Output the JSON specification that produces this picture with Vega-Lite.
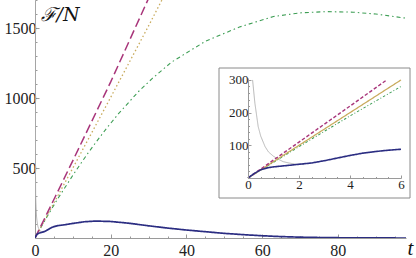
{
  "$schema": "https://vega.github.io/schema/vega-lite/v6.json",
  "width": 371,
  "height": 238,
  "autosize": {"type": "none"},
  "padding": {"left": 35, "top": 0, "right": 10, "bottom": 20},
  "background": "white",
  "config": {
    "view": {"stroke": null},
    "axis": {"labelFont": "Liberation Serif", "titleFont": "Liberation Serif", "domainColor": "#9a9a9a", "tickColor": "#9a9a9a", "grid": false, "labelColor": "#222222", "titleColor": "#111111", "labelFlush": false, "labelOverlap": false, "format": "d"}
  },
  "data": {
    "values": [
      {"s": "k", "t": 0.03, "v": 1750}, {"s": "k", "t": 0.04, "v": 1400}, {"s": "k", "t": 0.06, "v": 930}, {"s": "k", "t": 0.1, "v": 560},
      {"s": "k", "t": 0.18, "v": 300}, {"s": "k", "t": 0.27, "v": 229}, {"s": "k", "t": 0.4, "v": 157}, {"s": "k", "t": 0.5, "v": 128},
      {"s": "k", "t": 0.67, "v": 96}, {"s": "k", "t": 0.8, "v": 80}, {"s": "k", "t": 0.99, "v": 67}, {"s": "k", "t": 1.2, "v": 57},
      {"s": "k", "t": 1.38, "v": 50}, {"s": "k", "t": 1.6, "v": 46}, {"s": "k", "t": 1.9, "v": 42}, {"s": "k", "t": 2.2, "v": 41},
      {"s": "g", "t": 0, "v": 0}, {"s": "g", "t": 2, "v": 96}, {"s": "g", "t": 4, "v": 190}, {"s": "g", "t": 6, "v": 280},
      {"s": "g", "t": 8, "v": 364}, {"s": "g", "t": 10, "v": 448}, {"s": "g", "t": 12, "v": 528}, {"s": "g", "t": 14, "v": 606},
      {"s": "g", "t": 16, "v": 680}, {"s": "g", "t": 18.8, "v": 780}, {"s": "g", "t": 22, "v": 886}, {"s": "g", "t": 27.3, "v": 1045},
      {"s": "g", "t": 31, "v": 1140}, {"s": "g", "t": 36, "v": 1255}, {"s": "g", "t": 45, "v": 1405}, {"s": "g", "t": 54, "v": 1507},
      {"s": "g", "t": 63, "v": 1582}, {"s": "g", "t": 70, "v": 1608}, {"s": "g", "t": 77, "v": 1617}, {"s": "g", "t": 84, "v": 1613},
      {"s": "g", "t": 90, "v": 1600}, {"s": "g", "t": 98, "v": 1570},
      {"s": "o", "t": 0, "v": 0}, {"s": "o", "t": 2, "v": 100}, {"s": "o", "t": 4, "v": 200}, {"s": "o", "t": 6, "v": 300},
      {"s": "o", "t": 10, "v": 500}, {"s": "o", "t": 20, "v": 1005}, {"s": "o", "t": 30, "v": 1515}, {"s": "o", "t": 34, "v": 1725},
      {"s": "p", "t": 0, "v": 0}, {"s": "p", "t": 2, "v": 110}, {"s": "p", "t": 4, "v": 220}, {"s": "p", "t": 5.44, "v": 300},
      {"s": "p", "t": 6, "v": 331}, {"s": "p", "t": 10, "v": 553}, {"s": "p", "t": 20, "v": 1115}, {"s": "p", "t": 30, "v": 1712},
      {"s": "b", "t": 0, "v": 0}, {"s": "b", "t": 0.25, "v": 14}, {"s": "b", "t": 0.5, "v": 25}, {"s": "b", "t": 0.75, "v": 31},
      {"s": "b", "t": 1, "v": 34}, {"s": "b", "t": 1.5, "v": 38}, {"s": "b", "t": 2, "v": 42}, {"s": "b", "t": 2.5, "v": 46},
      {"s": "b", "t": 3, "v": 53}, {"s": "b", "t": 3.5, "v": 61}, {"s": "b", "t": 4, "v": 69}, {"s": "b", "t": 4.5, "v": 76},
      {"s": "b", "t": 5, "v": 81}, {"s": "b", "t": 5.5, "v": 85}, {"s": "b", "t": 6, "v": 88}, {"s": "b", "t": 8, "v": 95},
      {"s": "b", "t": 10, "v": 104}, {"s": "b", "t": 13, "v": 116}, {"s": "b", "t": 16, "v": 121}, {"s": "b", "t": 20, "v": 118},
      {"s": "b", "t": 25, "v": 105}, {"s": "b", "t": 30, "v": 87}, {"s": "b", "t": 35, "v": 71}, {"s": "b", "t": 40, "v": 57},
      {"s": "b", "t": 45, "v": 45}, {"s": "b", "t": 50, "v": 33}, {"s": "b", "t": 55, "v": 24}, {"s": "b", "t": 60, "v": 16},
      {"s": "b", "t": 65, "v": 10}, {"s": "b", "t": 70, "v": 6}, {"s": "b", "t": 75, "v": 3.5}, {"s": "b", "t": 80, "v": 2},
      {"s": "b", "t": 90, "v": 0.5}, {"s": "b", "t": 98, "v": 0}
    ]
  },
  "layer": [
    {
      "mark": {"type": "line", "clip": true},
      "encoding": {
        "x": {
          "field": "t", "type": "quantitative", "scale": {"domain": [0, 98]},
          "axis": {
            "values": [0, 5, 10, 15, 20, 25, 30, 35, 40, 45, 50, 55, 60, 65, 70, 75, 80, 85, 90, 95],
            "labelExpr": "datum.value % 20 === 0 ? datum.label : ''",
            "tickSize": {"condition": {"test": "datum.value % 20 === 0", "value": -4}, "value": -2},
            "labelFontSize": 16, "labelPadding": 8,
            "title": "t", "titleFontSize": 21, "titleFontStyle": "italic", "titleFontWeight": "normal",
            "titleX": 375, "titleY": 16, "titleAlign": "center", "titleBaseline": "alphabetic"
          }
        },
        "y": {
          "field": "v", "type": "quantitative", "scale": {"domain": [0, 1700]},
          "axis": {
            "values": [0, 100, 200, 300, 400, 500, 600, 700, 800, 900, 1000, 1100, 1200, 1300, 1400, 1500, 1600, 1700],
            "labelExpr": "datum.value % 500 === 0 && datum.value > 0 ? datum.label : ''",
            "tickSize": {"condition": {"test": "datum.value % 500 === 0", "value": -4}, "value": -2},
            "labelFontSize": 16, "labelPadding": 3,
            "title": "ℱ/N", "titleAngle": 0, "titleFont": "DejaVu Serif", "titleFontSize": 19, "titleFontStyle": "italic", "titleFontWeight": "normal",
            "titleX": 5, "titleY": 14, "titleAlign": "left", "titleBaseline": "middle"
          }
        },
        "color": {"field": "s", "type": "nominal", "legend": null,
          "scale": {"domain": ["k", "g", "o", "p", "b"], "range": ["#b0b0b0", "#3e9e55", "#c8aa5c", "#a8357a", "#2b2d82"]}},
        "strokeDash": {"field": "s", "type": "nominal", "legend": null,
          "scale": {"domain": ["k", "g", "o", "p", "b"], "range": [[1, 0], [4, 3, 1.5, 3], [1.5, 2.5], [9, 4], [1, 0]]}},
        "strokeWidth": {"field": "s", "type": "ordinal", "legend": null,
          "scale": {"domain": ["k", "g", "o", "p", "b"], "range": [0.9, 1.7, 1.7, 2, 2]}}
      }
    },
    {
      "data": {"values": [{}]},
      "mark": {"type": "rect", "fill": "white", "stroke": "#8a8a8a", "strokeWidth": 1},
      "encoding": {
        "x": {"datum": -1.137, "type": "quantitative", "scale": {"domain": [0, 6], "range": [213, 366]}, "axis": null},
        "x2": {"datum": 6.353},
        "y": {"datum": -61.2, "type": "quantitative", "scale": {"domain": [0, 306], "range": [178, 78]}, "axis": null},
        "y2": {"datum": 336.6}
      }
    },
    {
      "transform": [{"filter": "datum.t <= 6.01 && datum.v <= 301"}],
      "mark": {"type": "line"},
      "encoding": {
        "x": {
          "field": "t", "type": "quantitative", "scale": {"domain": [0, 6], "range": [213, 366]},
          "axis": {
            "orient": "bottom", "offset": -60, "zindex": 2,
            "values": [0, 0.5, 1, 1.5, 2, 2.5, 3, 3.5, 4, 4.5, 5, 5.5, 6],
            "labelExpr": "datum.value % 2 === 0 ? datum.label : ''",
            "tickSize": {"condition": {"test": "datum.value % 2 === 0", "value": -3}, "value": -1.5},
            "labelFontSize": 13, "labelPadding": 3, "title": null
          }
        },
        "y": {
          "field": "v", "type": "quantitative", "scale": {"domain": [0, 306], "range": [178, 78]},
          "axis": {
            "orient": "left", "offset": -213, "zindex": 2,
            "values": [0, 20, 40, 60, 80, 100, 120, 140, 160, 180, 200, 220, 240, 260, 280, 300],
            "labelExpr": "datum.value % 100 === 0 && datum.value > 0 ? datum.label : ''",
            "tickSize": {"condition": {"test": "datum.value % 100 === 0", "value": -3}, "value": -1.5},
            "labelFontSize": 13, "labelPadding": 3, "title": null
          }
        },
        "color": {"field": "s", "type": "nominal", "legend": null,
          "scale": {"domain": ["k", "g", "o", "p", "b"], "range": ["#b0b0b0", "#3e9e55", "#c8aa5c", "#a8357a", "#2b2d82"]}},
        "strokeDash": {"field": "s", "type": "nominal", "legend": null,
          "scale": {"domain": ["k", "g", "o", "p", "b"], "range": [[1, 0], [2.5, 2, 1, 2], [1, 0], [3.5, 2], [1, 0]]}},
        "strokeWidth": {"field": "s", "type": "ordinal", "legend": null,
          "scale": {"domain": ["k", "g", "o", "p", "b"], "range": [0.9, 1.6, 1.4, 2, 2]}}
      }
    }
  ],
  "resolve": {"scale": {"x": "independent", "y": "independent", "strokeDash": "independent", "strokeWidth": "independent"}}
}
